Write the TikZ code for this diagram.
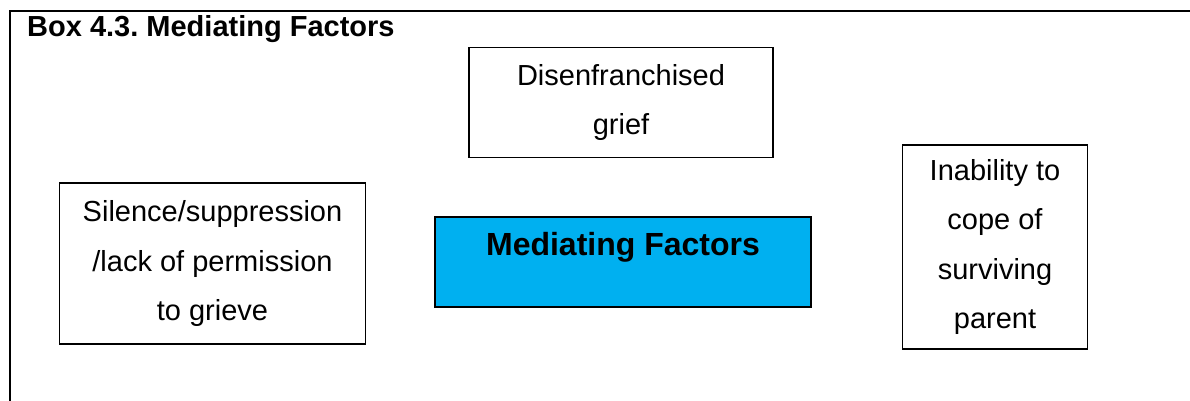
\documentclass[tikz,border=0pt]{standalone}
\usepackage{fontspec}
\setmainfont{Liberation Sans}
\usetikzlibrary{positioning}
\frenchspacing

\definecolor{factorblue}{HTML}{00B0F0}

\begin{document}
\begin{tikzpicture}[
% first : the style of the scheme
    x=1pt, y=-1pt,
    box/.style={
        rectangle,
        draw,
        line width=1.5pt,
        align=center,
        inner sep=0pt,
        font=\fontsize{29}{49.5}\selectfont
    },
    frame/.style={line width=2.8pt}
]
\useasboundingbox (0,0) rectangle (1190,401);

% outer frame + title
\draw[frame] (10,401) -- (10,11) -- (1192,11);
\node[anchor=base west, inner sep=0pt, font=\fontsize{29}{34}\selectfont\bfseries] (title) at (27,37) {Box 4.3. Mediating Factors};

% caracteristic + text
\node[box, fill=factorblue, minimum width=376pt, text height=38pt, text depth=52pt,
      font=\fontsize{32}{36}\selectfont\bfseries] (factors) at (623,262) {Mediating Factors};
\node[box, minimum width=306pt, minimum height=161pt, left=68pt of factors, yshift=-1.5pt] (silence)
    {Silence/suppression\\/lack of permission\\to grieve};
\node[box, minimum width=304pt, minimum height=110pt, above=58pt of factors, xshift=-2pt] (grief)
    {Disenfranchised\\grief};
\node[box, minimum width=185pt, minimum height=204pt, right=90pt of factors, yshift=15pt] (inability)
    {Inability to\\cope of\\surviving\\parent};

\end{tikzpicture}
\end{document}
